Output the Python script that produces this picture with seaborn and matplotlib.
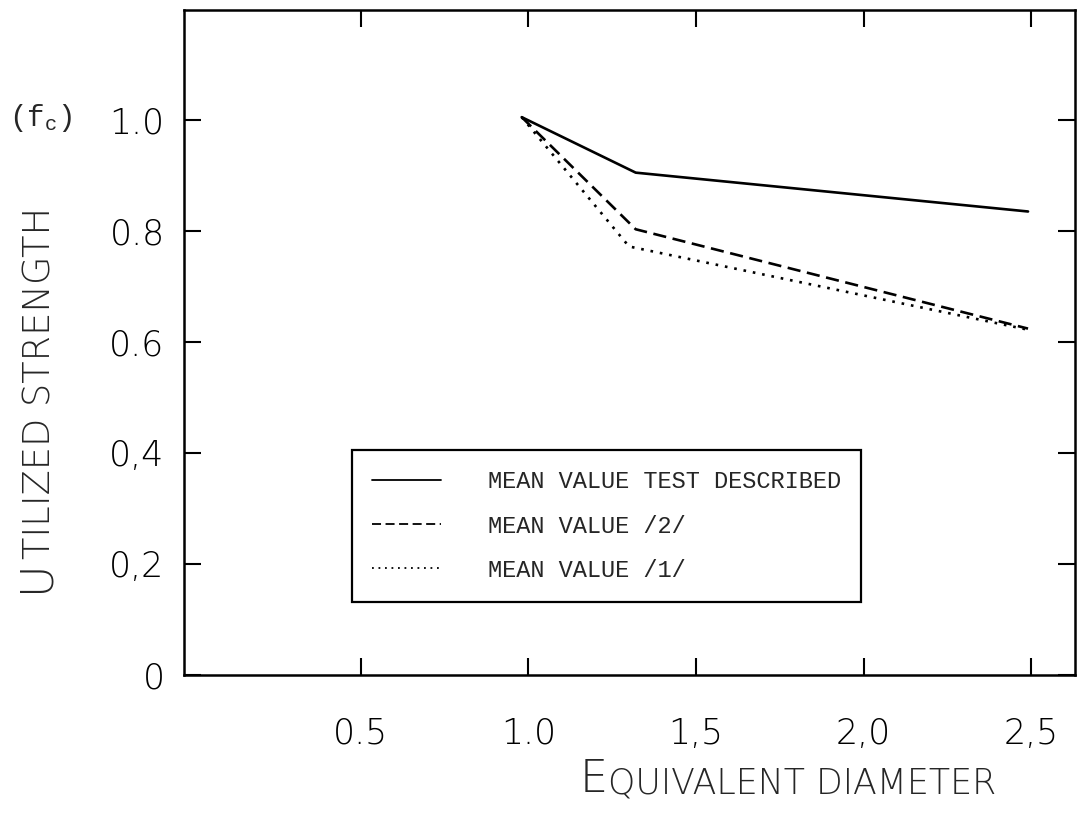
import numpy as np
import pandas as pd
import matplotlib
matplotlib.use("Agg")
import matplotlib.pyplot as plt
import seaborn as sns

# ---- data ----
series_names = ["MEAN VALUE TEST DESCRIBED", "MEAN VALUE /2/", "MEAN VALUE /1/"]
x_test = [0.98, 1.32, 2.49]
y_test = [1.005, 0.905, 0.835]
x_ref2 = [0.98, 1.32, 2.49]
y_ref2 = [1.005, 0.803, 0.624]
x_ref1 = [0.98, 1.30, 2.49]
y_ref1 = [1.005, 0.772, 0.622]

xtick_vals = [0.5, 1.0, 1.5, 2.0, 2.5]
xtick_labels = ["0.5", "1.0", "1,5", "2,0", "2,5"]
ytick_vals = [0.0, 0.2, 0.4, 0.6, 0.8, 1.0]
ytick_labels = ["0", "0,2", "0,4", "0.6", "0.8", "1.0"]

df = pd.DataFrame({
    "x": x_test + x_ref2 + x_ref1,
    "y": y_test + y_ref2 + y_ref1,
    "series": [series_names[0]] * len(x_test) + [series_names[1]] * len(x_ref2)
              + [series_names[2]] * len(x_ref1),
})

sns.set_theme(style="ticks")
plt.rcParams["font.family"] = ["DejaVu Sans"]

fig = plt.figure(figsize=(10.78, 8.14), dpi=100)
ax = fig.add_axes([0.1707, 0.1708, 0.8265, 0.8169])

sns.lineplot(
    data=df, x="x", y="y", style="series", hue="series",
    palette={n: "black" for n in series_names},
    dashes={series_names[0]: "", series_names[1]: (5, 2.5), series_names[2]: (1, 2.6)},
    linewidth=1.9, sort=False, estimator=None, ax=ax,
)

ax.set_xlim(-0.027, 2.63)
ax.set_ylim(0, 1.198)

ax.set_xticks(xtick_vals)
ax.set_xticklabels(xtick_labels, fontsize=25, fontweight="light")
ax.set_yticks(ytick_vals)
ax.set_yticklabels(ytick_labels, fontsize=25, fontweight="light")
ax.tick_params(axis="both", direction="in", length=12, width=1.5,
               top=True, right=True, colors="black")
ax.tick_params(axis="x", pad=30)
ax.tick_params(axis="y", pad=14)
for s in ax.spines.values():
    s.set_linewidth(1.8)
    s.set_color("black")
ax.set_xlabel("")
ax.set_ylabel("")

# legend
handles, labels = ax.get_legend_handles_labels()
leg = ax.legend(handles, labels, loc="lower left",
                bbox_to_anchor=(0.1886, 0.110),
                prop={"family": "Liberation Mono", "size": 17},
                frameon=True, fancybox=False, framealpha=1,
                edgecolor="black", handlelength=2.9, handletextpad=2.0,
                borderpad=0.85, labelspacing=0.9, borderaxespad=0)
leg.get_frame().set_linewidth(1.6)
for h in leg.get_lines():
    h.set_linewidth(1.3)

# (f_c) label near 1.0
fig.text(0.008, 1 - 118 / 814, r"(f$_\mathregular{c}$)", fontsize=21,
         family="Liberation Mono", va="center", ha="left")

# y axis label with enlarged first letter
u = fig.text(58 / 1078, 1 - 592 / 814, "U", fontsize=32, fontweight="light",
             rotation=90, ha="right", va="bottom")
ax.annotate("TILIZED STRENGTH", xy=(1.0, 1.0), xycoords=u,
            fontsize=26.5, fontweight="light", rotation=90,
            ha="right", va="bottom", annotation_clip=False)

# x axis label with enlarged first letter
e = fig.text(580 / 1078, 1 - 792 / 814, "E", fontsize=32, fontweight="light",
             ha="left", va="baseline")
ax.annotate("QUIVALENT DIAMETER", xy=(1.0, 0.0), xycoords=e,
            fontsize=25, fontweight="light", ha="left", va="bottom",
            annotation_clip=False)

fig.savefig("out.png", dpi=100, facecolor="white")
